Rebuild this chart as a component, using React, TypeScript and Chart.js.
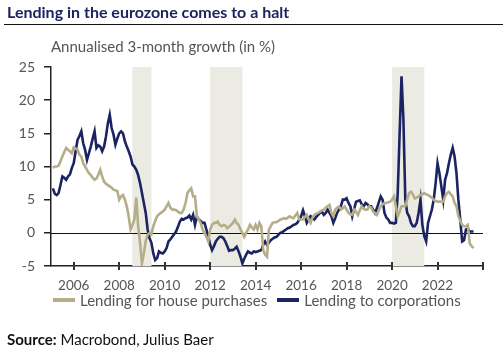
import React, { useEffect, useRef } from "react";
import { Chart, registerables } from "chart.js";

Chart.register(...registerables);

// Monthly data, first observation February 2005
const START_YEAR = 2005;
const START_MONTH = 2;

const corporations: number[] = [
  /* 2005 */ 6.7, 5.9, 5.7, 6.0, 7.2, 8.5, 8.3, 8.0, 8.5, 8.8, 9.8,
  /* 2006 */ 10.5, 12.3, 14.0, 14.6, 15.3, 13.5, 12.5, 11.0, 12.0, 13.0, 14.2, 15.3,
  /* 2007 */ 12.8, 13.2, 13.0, 12.3, 13.0, 14.5, 16.5, 17.8, 15.8, 14.8, 13.3, 14.2,
  /* 2008 */ 15.0, 15.3, 15.0, 13.8, 13.0, 12.3, 11.5, 10.3, 10.0, 9.5, 8.7, 7.5,
  /* 2009 */ 6.0, 4.5, 3.0, 0.5, -0.8, -1.5, -3.1, -4.1, -3.8, -2.8, -3.0, -3.1,
  /* 2010 */ -2.8, -2.3, -1.3, -1.0, -0.6, -0.2, 0.2, 0.9, 1.7, 2.1, 2.0, 2.2,
  /* 2011 */ 2.3, 2.6, 2.0, 2.7, 1.2, 2.5, 2.0, 1.8, 1.5, 1.5, 0.5, -0.5,
  /* 2012 */ -1.8, -2.6, -2.0, -1.3, -0.9, -0.6, -0.6, -0.8, -1.3, -2.0, -2.7, -2.6,
  /* 2013 */ -2.6, -2.4, -2.1, -2.8, -3.6, -4.6, -3.9, -3.3, -2.8, -3.0, -3.1, -2.8,
  /* 2014 */ -2.9, -2.8, -2.7, -2.6, -1.8, -1.3, -1.8, -1.5, -1.1, -0.9, -0.7, -0.6,
  /* 2015 */ -0.3, 0.0, 0.1, 0.3, 0.5, 0.7, 0.8, 1.0, 1.2, 1.3, 1.5, 2.0,
  /* 2016 */ 2.5, 3.4, 2.5, 1.5, 2.0, 2.5, 2.3, 2.0, 2.4, 2.7, 3.0, 3.2,
  /* 2017 */ 2.7, 3.0, 3.5, 3.0, 2.5, 1.5, 2.2, 3.0, 3.5, 4.0, 5.0, 5.0,
  /* 2018 */ 5.2, 4.5, 4.0, 2.5, 3.6, 4.7, 4.8, 4.9, 4.3, 4.0, 4.5, 4.3,
  /* 2019 */ 4.0, 4.0, 3.5, 3.0, 3.7, 4.6, 5.5, 5.0, 3.0, 2.3, 2.0, 1.5,
  /* 2020 */ 1.5, 1.4, 1.5, 6.0, 15.0, 23.6, 17.0, 5.0, 3.0, 2.5, 1.5, 1.0,
  /* 2021 */ 1.0, 1.5, 3.0, 5.0, 1.2, -0.5, -1.3, 1.5, 2.5, 3.5, 5.0, 7.5,
  /* 2022 */ 10.5, 9.0, 7.0, 5.0, 8.0, 9.0, 10.5, 11.8, 12.8, 11.5, 9.0, 5.0,
  /* 2023 */ 2.0, -1.3, -1.1, 0.5, 0.6, 0.2, 0.2, 0.2,
];

const housePurchases: number[] = [
  /* 2005 */ 9.8, 10.0, 10.0, 10.1, 10.8, 11.5, 12.2, 12.8, 12.5, 12.3, 12.0,
  /* 2006 */ 12.9, 12.7, 12.5, 11.8, 11.5, 10.5, 10.0, 9.5, 9.0, 8.7, 8.3, 8.0,
  /* 2007 */ 8.2, 8.8, 9.5, 8.5, 7.7, 7.4, 7.2, 7.0, 6.8, 6.5, 6.4, 6.3,
  /* 2008 */ 5.0, 5.5, 5.7, 5.0, 4.0, 2.5, 0.5, 1.2, 2.0, 5.3, 1.0, -1.5,
  /* 2009 */ -4.6, -3.1, -1.2, -0.3, 0.0, -0.2, 1.0, 1.8, 2.5, 2.8, 3.0, 3.2,
  /* 2010 */ 3.5, 4.0, 4.5, 3.8, 3.5, 3.5, 3.4, 3.2, 3.0, 3.0, 3.5, 4.5,
  /* 2011 */ 6.0, 6.4, 6.7, 5.5, 5.5, 2.5, 2.0, 1.5, 0.5, 0.0, -0.6, -1.3,
  /* 2012 */ 0.5, 1.2, 1.5, 1.5, 1.7, 1.2, 1.0, 1.2, 1.1, 0.7, 0.9, 1.2,
  /* 2013 */ 1.5, 2.0, 1.5, 1.2, 0.5, 0.0, -0.6, 0.0, 0.5, 1.2, 0.8, 0.5,
  /* 2014 */ 1.2, 0.5, 1.5, 1.0, -2.6, -3.3, -3.6, 0.5, 1.0, 1.5, 1.6, 1.6,
  /* 2015 */ 1.8, 2.0, 2.1, 2.2, 2.1, 2.3, 2.5, 2.3, 2.2, 2.6, 3.0, 2.0,
  /* 2016 */ 2.0, 2.0, 2.4, 2.7, 2.0, 1.5, 2.3, 2.7, 2.9, 3.0, 3.2, 3.4,
  /* 2017 */ 3.5, 3.8, 4.0, 4.2, 3.0, 2.5, 3.5, 3.8, 4.0, 3.5, 3.7, 4.0,
  /* 2018 */ 3.5, 3.0, 2.8, 2.7, 3.5, 3.2, 2.7, 3.4, 4.0, 3.6, 3.5, 3.5,
  /* 2019 */ 4.0, 3.8, 3.2, 3.0, 2.7, 3.4, 4.0, 4.3, 4.5, 4.5, 4.6, 4.7,
  /* 2020 */ 5.0, 5.5, 4.0, 2.5, 3.2, 4.0, 4.0, 4.0, 5.0, 6.0, 6.2, 5.8,
  /* 2021 */ 5.2, 5.3, 5.5, 5.7, 5.8, 6.0, 5.8, 5.7, 5.5, 5.3, 5.0, 4.8,
  /* 2022 */ 4.7, 4.7, 4.7, 4.7, 5.5, 6.0, 6.2, 5.8, 5.5, 4.5, 4.0, 2.5,
  /* 2023 */ 1.8, 1.2, 1.0, 1.0, 1.2, -1.6, -2.0, -2.3,
];

// Shaded periods (recessions), in decimal years
const bandStarts = [2008.58, 2012.0, 2020.0];
const bandEnds = [2009.42, 2013.42, 2021.42];

const xTickValues = [2006, 2008, 2010, 2012, 2014, 2016, 2018, 2020, 2022, 2024];
const xTickLabels = ["2006", "2008", "2010", "2012", "2014", "2016", "2018", "2020", "2022", ""];
const yTickValues = [-5, 0, 5, 10, 15, 20, 25];

const NAVY = "#1b2461";
const BEIGE = "#b5ad88";
const BAND = "#ecebe3";
const FONT = "Lato, 'Open Sans', sans-serif";

const toPoints = (vals: number[]) =>
  vals.map((v, i) => ({ x: START_YEAR + (START_MONTH - 1 + i) / 12, y: v }));

const decorPlugin = {
  id: "decor",
  beforeDatasetsDraw(chart: any) {
    const { ctx, chartArea, scales } = chart;
    const xs = scales.x;
    const ys = scales.y;
    ctx.save();
    ctx.fillStyle = BAND;
    bandStarts.forEach((s, i) => {
      const x0 = xs.getPixelForValue(s);
      const x1 = xs.getPixelForValue(bandEnds[i]);
      ctx.fillRect(x0, chartArea.top, x1 - x0, chartArea.bottom - chartArea.top);
    });
    const y0 = Math.round(ys.getPixelForValue(0)) + 0.5;
    ctx.strokeStyle = "#111";
    ctx.lineWidth = 1;
    ctx.beginPath();
    ctx.moveTo(chartArea.left, y0);
    ctx.lineTo(chartArea.right, y0);
    ctx.stroke();
    ctx.restore();
  },
  afterDraw(chart: any) {
    const { ctx, chartArea, scales } = chart;
    const xs = scales.x;
    ctx.save();
    ctx.strokeStyle = "#333";
    ctx.lineWidth = 2;
    xTickValues.forEach((v) => {
      const x = Math.round(xs.getPixelForValue(v));
      ctx.beginPath();
      ctx.moveTo(x, chartArea.bottom - 4);
      ctx.lineTo(x, chartArea.bottom + 4);
      ctx.stroke();
    });
    ctx.restore();
  },
};

export default function App() {
  const canvasRef = useRef<HTMLCanvasElement | null>(null);

  useEffect(() => {
    if (!canvasRef.current) return;
    const chart = new Chart(canvasRef.current, {
      type: "line",
      data: {
        datasets: [
          {
            label: "Lending for house purchases",
            data: toPoints(housePurchases),
            borderColor: BEIGE,
            borderWidth: 2.6,
            pointRadius: 0,
            tension: 0,
          },
          {
            label: "Lending to corporations",
            data: toPoints(corporations),
            borderColor: NAVY,
            borderWidth: 2.6,
            pointRadius: 0,
            tension: 0,
          },
        ],
      },
      options: {
        animation: false,
        responsive: false,
        devicePixelRatio: 1,
        layout: { padding: { left: 0, top: 67, right: 20, bottom: 59 } },
        plugins: {
          legend: { display: false },
          tooltip: { enabled: false },
        },
        scales: {
          x: {
            type: "linear",
            min: 2005,
            max: 2024,
            afterBuildTicks: (scale: any) => {
              scale.ticks = xTickValues.map((v) => ({ value: v }));
            },
            afterFit: (scale: any) => {
              scale.height = 25;
            },
            grid: { display: false },
            border: { display: true, color: "#222", width: 1.5 },
            ticks: {
              autoSkip: false,
              maxRotation: 0,
              padding: 4,
              color: "#555",
              font: { family: FONT, size: 13.5 },
              callback: (v: any) => {
                const idx = xTickValues.indexOf(Number(v));
                return idx >= 0 ? xTickLabels[idx] : "";
              },
            },
          },
          y: {
            min: -5,
            max: 25,
            afterBuildTicks: (scale: any) => {
              scale.ticks = yTickValues.map((v) => ({ value: v }));
            },
            afterFit: (scale: any) => {
              scale.width = 51;
            },
            grid: {
              display: true,
              drawOnChartArea: false,
              drawTicks: true,
              tickLength: 7,
              color: "#222",
              lineWidth: 1.5,
            },
            border: { display: true, color: "#222", width: 1.5 },
            ticks: {
              padding: 9,
              color: "#555",
              font: { family: FONT, size: 14 },
            },
          },
        },
      },
      plugins: [decorPlugin],
    } as any);
    return () => chart.destroy();
  }, []);

  const legendLine = (color: string) => (
    <span
      style={{
        display: "inline-block",
        width: 22,
        height: 4,
        background: color,
        verticalAlign: "middle",
        marginRight: 5,
      }}
    />
  );

  return (
    <div
      style={{
        position: "absolute",
        left: 0,
        top: 0,
        width: 503,
        height: 350,
        background: "#fff",
        fontFamily: FONT,
        overflow: "hidden",
      }}
    >
      <canvas
        ref={canvasRef}
        width={503}
        height={350}
        style={{ position: "absolute", left: 0, top: 0, width: 503, height: 350 }}
      />
      <div
        style={{
          position: "absolute",
          left: 7,
          top: 2,
          fontSize: 16,
          fontWeight: 700,
          color: NAVY,
          whiteSpace: "nowrap",
        }}
      >
        Lending in the eurozone comes to a halt
      </div>
      <div
        style={{ position: "absolute", left: 4, top: 23.5, width: 499, height: 1, background: "#111" }}
      />
      <div
        style={{
          position: "absolute",
          left: 51,
          top: 37,
          fontSize: 15,
          color: "#555",
          whiteSpace: "nowrap",
        }}
      >
        Annualised 3-month growth (in %)
      </div>
      <div
        style={{
          position: "absolute",
          left: 53,
          top: 291,
          fontSize: 15,
          color: "#555",
          whiteSpace: "nowrap",
          display: "flex",
          alignItems: "center",
        }}
      >
        <span style={{ display: "inline-flex", alignItems: "center", marginRight: 10 }}>
          {legendLine(BEIGE)}
          Lending for house purchases
        </span>
        <span style={{ display: "inline-flex", alignItems: "center" }}>
          {legendLine(NAVY)}
          Lending to corporations
        </span>
      </div>
      <div
        style={{
          position: "absolute",
          left: 7,
          top: 330,
          fontSize: 15,
          color: "#111",
          whiteSpace: "nowrap",
        }}
      >
        <span style={{ fontWeight: 700 }}>Source:</span> Macrobond, Julius Baer
      </div>
    </div>
  );
}
